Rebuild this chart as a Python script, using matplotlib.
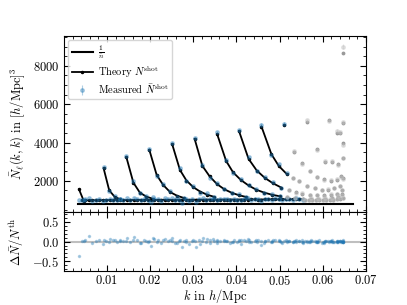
import numpy as np
import matplotlib.pyplot as plt
from matplotlib import rcParams
from matplotlib.ticker import MultipleLocator

rcParams['font.family'] = 'serif'
rcParams['font.serif'] = ['cmr10']
rcParams['mathtext.fontset'] = 'cm'
rcParams['axes.formatter.use_mathtext'] = True
rcParams['axes.unicode_minus'] = True
rcParams['xtick.labelsize'] = 9
rcParams['ytick.labelsize'] = 9
rcParams['axes.labelsize'] = 9
rcParams['legend.fontsize'] = 7.5

# 1/nbar level and its k range
inv_nbar = 785
nbar_k = [0.0032, 0.067]

# theory curves inside the fit range (k, N)
curve_k = [
    [0.0035, 0.0046],
    [0.0092, 0.0105, 0.0118, 0.0131],
    [0.0145, 0.0161, 0.0176, 0.0191, 0.0206],
    [0.0198, 0.0215, 0.0230, 0.0246, 0.0262, 0.0278],
    [0.0251, 0.0269, 0.0284, 0.0300, 0.0316, 0.0332, 0.0348],
    [0.0303, 0.0321, 0.0338, 0.0355, 0.0372, 0.0389, 0.0406, 0.0423],
    [0.0355, 0.0376, 0.0392, 0.0410, 0.0428, 0.0446, 0.0464, 0.0482, 0.0500],
    [0.0406, 0.0428, 0.0447, 0.0466, 0.0485, 0.0504],
    [0.0458, 0.0481, 0.0498, 0.0516],
    [0.0511],
]
curve_n = [
    [1560, 960],
    [2660, 1510, 1160, 1040],
    [3220, 1910, 1390, 1180, 1070],
    [3620, 2310, 1790, 1420, 1230, 1110],
    [3910, 2570, 2020, 1670, 1440, 1280, 1170],
    [4190, 2780, 2230, 1830, 1560, 1380, 1250, 1160],
    [4450, 3040, 2450, 2050, 1760, 1540, 1390, 1280, 1200],
    [4590, 3150, 2540, 2150, 1870, 1650],
    [4830, 3390, 2780, 2370],
    [4920],
]
# relative deviation of the measurement from theory
curve_res = [
    [-0.37, 0.02],
    [0.03, -0.02, 0.04, 0.01],
    [0.02, 0.05, -0.03, 0.02, 0.08],
    [0.01, -0.02, 0.03, 0.05, -0.04, 0.02],
    [0.02, 0.04, -0.01, 0.03, -0.05, 0.06, 0.01],
    [0.01, 0.02, -0.03, 0.04, 0.02, -0.02, 0.05, 0.01],
    [0.02, 0.01, -0.02, 0.03, 0.00, 0.04, -0.03, 0.02, 0.01],
    [0.01, 0.03, -0.01, 0.02, 0.04, -0.02],
    [0.02, -0.01, 0.03, 0.01],
    [0.01],
]

# flat tail of all configurations
band_k = [0.0042, 0.0050, 0.0058, 0.0066, 0.0074, 0.0082, 0.0090, 0.0098, 0.0106, 0.0114,
          0.0122, 0.0130, 0.0138, 0.0146, 0.0154, 0.0162, 0.0170, 0.0178, 0.0186, 0.0194,
          0.0202, 0.0210, 0.0218, 0.0226, 0.0234, 0.0242, 0.0250, 0.0258, 0.0266, 0.0274,
          0.0282, 0.0290, 0.0298, 0.0306, 0.0314, 0.0322, 0.0330, 0.0338, 0.0346, 0.0354,
          0.0362, 0.0370, 0.0378, 0.0386, 0.0394, 0.0402, 0.0410, 0.0418, 0.0426, 0.0434,
          0.0442, 0.0450, 0.0458, 0.0466, 0.0474, 0.0482, 0.0490, 0.0498, 0.0506, 0.0514,
          0.0522, 0.0530, 0.0538, 0.0546, 0.0554]
band_n = [990, 985, 985, 990, 990, 995, 995, 1000, 1000, 1000,
          1005, 1005, 1000, 1000, 1005, 1005, 1010, 1010, 1005, 1005,
          1010, 1010, 1010, 1015, 1015, 1010, 1010, 1015, 1015, 1020,
          1020, 1015, 1015, 1020, 1020, 1020, 1025, 1025, 1020, 1020,
          1025, 1025, 1030, 1030, 1025, 1025, 1030, 1030, 1030, 1035,
          1035, 1030, 1030, 1035, 1035, 1040, 1040, 1035, 1035, 1040,
          1040, 1040, 1045, 1045, 1040]
band_res = [0.02, 0.05, 0.13, -0.03, 0.01, 0.04, -0.05, 0.02, 0.06, 0.03,
            -0.02, 0.05, 0.01, 0.09, -0.01, 0.12, 0.03, -0.03, 0.04, 0.00,
            -0.12, 0.06, 0.03, -0.04, 0.07, 0.02, 0.10, -0.03, 0.01, -0.15,
            0.04, -0.06, 0.02, -0.13, 0.05, 0.08, -0.02, 0.03, 0.06, -0.04,
            0.01, 0.05, 0.02, -0.03, 0.04, 0.00, -0.05, 0.03, 0.06, -0.02,
            0.02, 0.04, -0.08, 0.01, 0.03, -0.01, 0.05, 0.02, -0.04, 0.03,
            0.01, -0.02, 0.04, 0.02, -0.03]

# configurations outside the fit range (grey)
out_k = [
    [0.0533, 0.0553, 0.0570, 0.0587, 0.0603, 0.0618, 0.0632, 0.0643],
    [0.0563, 0.0586, 0.0605, 0.0621, 0.0636, 0.0646],
    [0.0615, 0.0632, 0.0641, 0.0646],
    [0.0647],
    [0.0646],
    [0.0531, 0.0546, 0.0563, 0.0581, 0.0598, 0.0613, 0.0627, 0.0639, 0.0646],
    [0.0521, 0.0537, 0.0553, 0.0570, 0.0587, 0.0603, 0.0619, 0.0633, 0.0644],
    [0.0518, 0.0536, 0.0554, 0.0572, 0.0589, 0.0606, 0.0622, 0.0636, 0.0645],
    [0.0560, 0.0568, 0.0576, 0.0584, 0.0592, 0.0600, 0.0608, 0.0616, 0.0624, 0.0632, 0.0640, 0.0646],
]
out_n = [
    [3530, 2920, 2490, 2200, 2090, 2010, 2050, 2250],
    [5060, 3660, 3010, 2960, 2900, 3190],
    [5180, 4520, 4490, 3970],
    [5010],
    [8680],
    [2140, 1970, 1750, 1620, 1550, 1530, 1610, 1740, 2140],
    [1500, 1400, 1330, 1280, 1250, 1240, 1270, 1330, 1500],
    [1150, 1110, 1080, 1070, 1060, 1080, 1110, 1180, 1300],
    [1000, 1000, 1005, 1005, 1010, 1010, 1015, 1020, 1030, 1045, 1070, 1120],
]
out_res = [
    [0.01, -0.02, 0.02, 0.00, -0.03, 0.01, 0.02, -0.01],
    [0.02, -0.01, 0.01, 0.03, -0.02, 0.00],
    [-0.01, 0.02, 0.01, -0.02],
    [0.01],
    [0.035],
    [0.00, 0.02, -0.01, 0.01, -0.03, 0.02, 0.00, 0.01, -0.02],
    [0.01, -0.02, 0.03, 0.00, 0.01, -0.01, 0.02, -0.02, 0.01],
    [-0.01, 0.02, 0.00, 0.03, -0.02, 0.01, 0.00, 0.02, -0.01],
    [0.02, -0.01, 0.01, 0.00, 0.03, -0.02, 0.01, 0.02, -0.01, 0.00, 0.02, -0.01],
]
err_frac = 0.015

fig = plt.figure(figsize=(4.07, 3.05), dpi=100)
ax = fig.add_axes([0.157, 0.305, 0.742, 0.577])
axr = fig.add_axes([0.157, 0.111, 0.742, 0.194], sharex=ax)

# 1/nbar
ax.plot(nbar_k, [inv_nbar, inv_nbar], 'k-', lw=1.5, label=r'$\frac{1}{\bar{n}}$', zorder=2)

# theory
ax.plot(band_k, band_n, 'k.-', lw=1.3, ms=3, zorder=2)
for i, (kk, nn) in enumerate(zip(curve_k, curve_n)):
    ax.plot(kk, nn, 'k.-', lw=1.3, ms=3, zorder=2,
            label=r'Theory $N^{\rm shot}$' if i == 0 else None)

# measured, in range
k_in = np.array(sum(curve_k, []) + band_k)
n_in = np.array(sum(curve_n, []) + band_n)
r_in = np.array(sum(curve_res, []) + band_res)
m_in = n_in * (1 + r_in)
ax.errorbar(k_in, m_in, yerr=err_frac * m_in, fmt='.', color='C0', alpha=0.35,
            ms=5, elinewidth=0.8, capsize=0, zorder=3,
            label=r'Measured $\bar{N}^{\rm shot}$')

# outside fit range
k_out = np.array(sum(out_k, []))
n_out = np.array(sum(out_n, []))
r_out = np.array(sum(out_res, []))
m_out = n_out * (1 + r_out)
ax.plot(k_out, n_out, '.', color='0.6', ms=3.5, zorder=2)
ax.errorbar(k_out, m_out, yerr=err_frac * m_out, fmt='.', color='0.75', alpha=0.4,
            ms=5, elinewidth=0.8, capsize=0, zorder=3)

ax.set_xlim(0, 0.07)
ax.set_ylim(380, 9550)
ax.yaxis.set_major_locator(MultipleLocator(2000))
ax.yaxis.set_minor_locator(MultipleLocator(500))
ax.set_ylabel(r'$\bar{N}_\ell(k,k)$ in $[h/{\rm Mpc}]^3$')
ax.legend(loc='upper left', labelspacing=0.25, borderpad=0.35,
          handletextpad=0.5, borderaxespad=0.4)

# residuals
axr.axhline(0, color='0.75', lw=1.5, zorder=1)
axr.plot(np.concatenate([k_in, k_out]), np.concatenate([r_in, r_out]), '.',
         color='C0', alpha=0.3, ms=3, zorder=2)
axr.set_ylim(-0.75, 0.75)
axr.yaxis.set_major_locator(MultipleLocator(0.5))
axr.yaxis.set_minor_locator(MultipleLocator(0.1))
axr.set_xticks([0.01, 0.02, 0.03, 0.04, 0.05, 0.06, 0.07])
axr.xaxis.set_minor_locator(MultipleLocator(0.002))
axr.set_xlabel(r'$k$ in $h/$Mpc', labelpad=-1)
axr.set_ylabel(r'$\Delta\bar{N}/N^{\rm th}$')

for a in (ax, axr):
    a.tick_params(which='both', direction='in', top=True, right=True)
    a.tick_params(which='major', length=4, width=0.8)
    a.tick_params(which='minor', length=2, width=0.6)
ax.tick_params(labelbottom=False)
axr.tick_params(axis='x', pad=2)

fig.align_ylabels([ax, axr])
fig.savefig('out.png', dpi=100)
